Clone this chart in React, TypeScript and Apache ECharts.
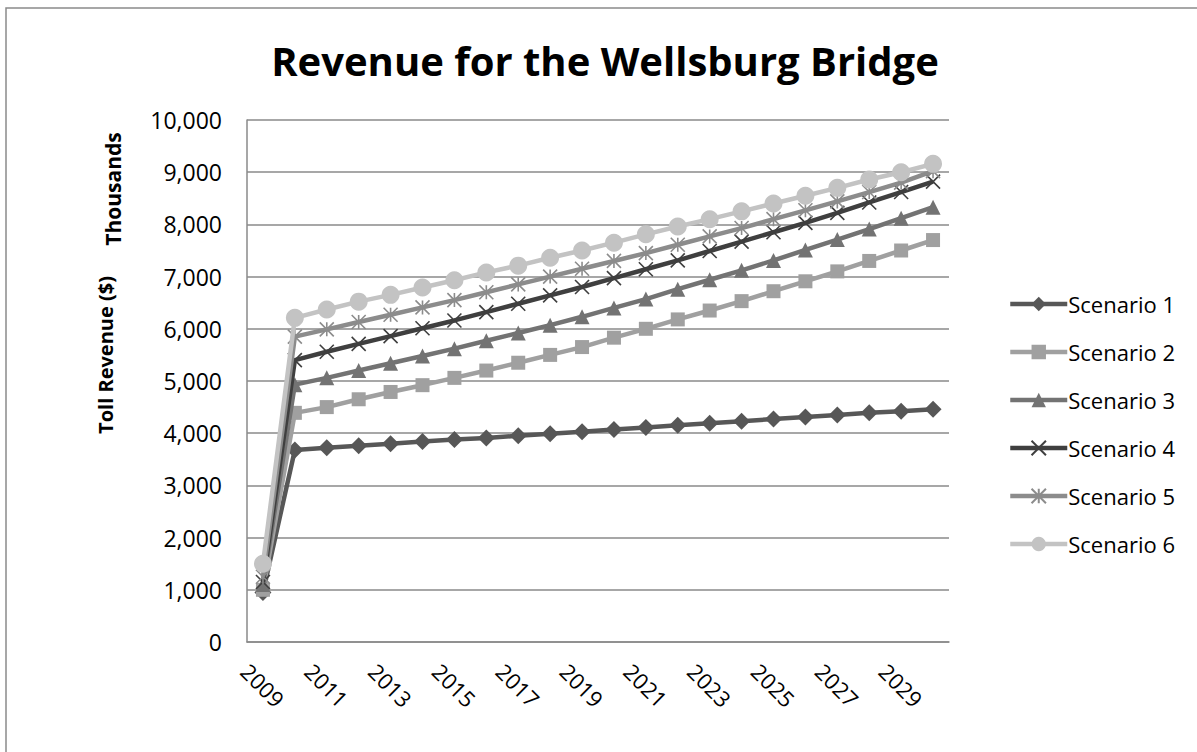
import React, { useEffect, useRef } from "react";
import * as echarts from "echarts";

const years = [
  "2009", "2010", "2011", "2012", "2013", "2014", "2015", "2016", "2017", "2018", "2019",
  "2020", "2021", "2022", "2023", "2024", "2025", "2026", "2027", "2028", "2029", "2030",
];

const scenario1 = [950, 3680, 3720, 3760, 3800, 3840, 3880, 3910, 3950, 3990, 4030, 4070, 4110, 4150, 4190, 4230, 4270, 4310, 4350, 4390, 4420, 4460];
const scenario2 = [1000, 4390, 4500, 4650, 4790, 4920, 5060, 5200, 5350, 5500, 5650, 5830, 6000, 6180, 6350, 6530, 6720, 6910, 7100, 7300, 7500, 7700];
const scenario3 = [1100, 4930, 5060, 5200, 5340, 5480, 5620, 5770, 5920, 6070, 6230, 6400, 6570, 6760, 6940, 7120, 7310, 7510, 7710, 7910, 8120, 8330];
const scenario4 = [1150, 5400, 5560, 5710, 5860, 6010, 6160, 6320, 6480, 6640, 6800, 6970, 7140, 7310, 7490, 7670, 7850, 8030, 8220, 8420, 8620, 8820];
const scenario5 = [1250, 5850, 5990, 6130, 6270, 6410, 6550, 6700, 6850, 7000, 7150, 7300, 7450, 7610, 7770, 7930, 8100, 8270, 8440, 8620, 8800, 9020];
const scenario6 = [1500, 6210, 6370, 6520, 6650, 6790, 6930, 7080, 7210, 7360, 7500, 7650, 7810, 7960, 8100, 8250, 8400, 8550, 8700, 8860, 9000, 9160];

const seriesNames = ["Scenario 1", "Scenario 2", "Scenario 3", "Scenario 4", "Scenario 5", "Scenario 6"];
const seriesData = [scenario1, scenario2, scenario3, scenario4, scenario5, scenario6];
const seriesColors = ["#575757", "#a0a0a0", "#737373", "#3f3f3f", "#8c8c8c", "#c3c3c3"];

const title = "Revenue for the Wellsburg Bridge";
const yTitle = "Toll Revenue ($)";
const unitLabel = "Thousands";

const FONT = "'Open Sans', 'Liberation Sans', sans-serif";

const CROSS = "path://M0,0L10,10M10,0L0,10";
const STAR = "path://M0,0L10,10M10,0L0,10M5,0L5,10";

export default function App() {
  const ref = useRef<HTMLDivElement>(null);
  useEffect(() => {
    document.body.style.margin = "0";
    if (!ref.current) return;
    const chart = echarts.init(ref.current, undefined, { renderer: "svg" });

    const symbolDefs = [
      { symbol: "diamond", size: 17 },
      { symbol: "rect", size: 14 },
      { symbol: "triangle", size: 15 },
      { symbol: CROSS, size: 14 },
      { symbol: STAR, size: 14 },
      { symbol: "circle", size: 18 },
    ];

    const series = seriesNames.map((name, i) => {
      const stroked = i === 3 || i === 4;
      return {
        name,
        type: "line",
        data: seriesData[i],
        symbol: symbolDefs[i].symbol,
        symbolSize: symbolDefs[i].size,
        showAllSymbol: true,
        lineStyle: { color: seriesColors[i], width: 4.5 },
        itemStyle: stroked
          ? { color: seriesColors[i], borderColor: seriesColors[i], borderWidth: 1.6 }
          : { color: seriesColors[i], borderWidth: 0 },
        emphasis: { disabled: true },
        z: 2 + i,
      };
    });

    chart.setOption({
      animation: false,
      backgroundColor: "#ffffff",
      textStyle: { fontFamily: FONT },
      grid: { left: 247, top: 120, width: 702, height: 522, containLabel: false },
      graphic: [
        {
          type: "rect",
          shape: { x: 6, y: 8, width: 1400, height: 1000 },
          style: { fill: "none", stroke: "#8a8a8a", lineWidth: 1.5 },
          silent: true,
          z: 0,
        },
        {
          type: "text",
          x: 605,
          y: 60,
          style: {
            text: title,
            font: `bold 40px ${FONT}`,
            fill: "#000000",
            align: "center",
            verticalAlign: "middle",
          },
        },
        {
          type: "text",
          x: 113,
          y: 189,
          rotation: Math.PI / 2,
          style: {
            text: unitLabel,
            font: `bold 21px ${FONT}`,
            fill: "#000000",
            align: "center",
            verticalAlign: "middle",
          },
        },
        {
          type: "text",
          x: 105,
          y: 355,
          rotation: Math.PI / 2,
          style: {
            text: yTitle,
            font: `bold 20px ${FONT}`,
            fill: "#000000",
            align: "center",
            verticalAlign: "middle",
          },
        },
      ],
      legend: {
        orient: "vertical",
        left: 1003,
        top: 287,
        itemWidth: 57,
        itemHeight: 18,
        itemGap: 24,
        lineStyle: { width: 4.5 },
        textStyle: { fontSize: 22, color: "#000000", lineHeight: 24, fontFamily: FONT, padding: [0, 0, 0, -4] },
        data: seriesNames,
        selectedMode: false,
      },
      xAxis: {
        type: "category",
        data: years,
        boundaryGap: true,
        axisLine: { lineStyle: { color: "#8a8a8a", width: 1.5 } },
        axisTick: { show: false },
        axisLabel: {
          interval: 1,
          rotate: -45,
          align: "center",
          verticalAlign: "middle",
          margin: 43,
          fontSize: 22,
          color: "#000000",
          fontFamily: FONT,
        },
      },
      yAxis: {
        type: "value",
        min: 0,
        max: 10000,
        interval: 1000,
        axisLine: { show: true, lineStyle: { color: "#8a8a8a", width: 1.5 } },
        axisTick: { show: false },
        splitLine: { lineStyle: { color: "#8a8a8a", width: 1.5 } },
        axisLabel: {
          margin: 25,
          fontSize: 23,
          color: "#000000",
          fontFamily: FONT,
          formatter: (v: number) => v.toLocaleString("en-US"),
        },
      },
      series,
    });
    return () => chart.dispose();
  }, []);
  return <div ref={ref} style={{ width: 1197, height: 752 }} />;
}
